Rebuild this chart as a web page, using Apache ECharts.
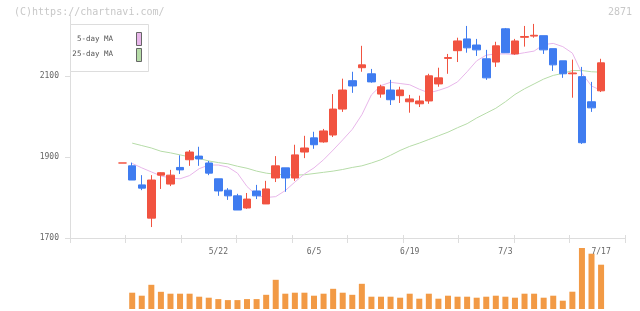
<!DOCTYPE html>
<html><head><meta charset="utf-8">
<script src="https://cdn.jsdelivr.net/npm/echarts@6/dist/echarts.min.js"></script>
<style>html,body{margin:0;padding:0;background:#fff}#c{width:640px;height:311px}</style>
</head><body><div id="c"></div>
<script>
const dates = ['5/8','5/9','5/10','5/11','5/12','5/15','5/16','5/17','5/18','5/19','5/22','5/23','5/24','5/25','5/26','5/29','5/30','5/31','6/1','6/2','6/5','6/6','6/7','6/8','6/9','6/12','6/13','6/14','6/15','6/16','6/19','6/20','6/21','6/22','6/23','6/26','6/27','6/28','6/29','6/30','7/3','7/4','7/5','7/6','7/7','7/10','7/11','7/12','7/13','7/14','7/17'];
const tickLabels = ['5/22','6/5','6/19','7/3','7/17'];
const yTicks = [1700, 1900, 2100];
const openP  = [1885,1878,1831,1749,1855,1833,1874,1893,1902,1885,1846,1818,1804,1774,1816,1784,1848,1873,1848,1912,1947,1937,1954,2018,2088,2120,2105,2055,2065,2051,2036,2031,2038,2080,2143,2162,2191,2176,2142,2134,2216,2154,2195,2198,2199,2167,2137,2105,2098,2036,2063];
const closeP = [1885,1843,1823,1843,1861,1855,1868,1912,1895,1860,1816,1804,1769,1796,1804,1821,1878,1848,1905,1922,1930,1964,2018,2065,2075,2127,2085,2073,2041,2065,2043,2038,2100,2095,2145,2186,2169,2164,2095,2174,2157,2186,2197,2200,2164,2127,2105,2107,1935,2021,2132];
const lowP   = [1885,1843,1818,1727,1821,1828,1858,1878,1878,1855,1804,1794,1769,1772,1796,1784,1838,1814,1841,1897,1920,1935,1949,2011,2058,2110,2083,2046,2028,2033,2009,2023,2031,2073,2105,2134,2157,2149,2090,2122,2157,2152,2172,2194,2154,2112,2095,2046,1932,2011,2060];
const highP  = [1885,1886,1855,1855,1862,1868,1904,1917,1925,1890,1846,1823,1809,1811,1831,1841,1902,1873,1930,1952,1962,1969,2055,2093,2110,2174,2117,2078,2090,2073,2053,2051,2105,2120,2154,2194,2223,2191,2164,2184,2218,2191,2223,2228,2199,2167,2137,2140,2122,2085,2142];
const ma5  = [null,1884,1873,1863,1853,1848,1846,1854,1871,1880,1880,1875,1860,1827,1805,1800,1802,1817,1838,1858,1873,1893,1917,1942,1968,2004,2053,2076,2084,2081,2078,2067,2058,2064,2072,2085,2110,2137,2151,2154,2154,2153,2157,2161,2177,2180,2172,2156,2106,2075,2064];
const ma25 = [null,1934,1928,1922,1914,1910,1905,1900,1896,1890,1886,1883,1877,1872,1865,1860,1857,1856,1855,1856,1859,1862,1865,1869,1874,1878,1885,1893,1904,1916,1926,1934,1943,1952,1961,1972,1982,1996,2008,2020,2036,2054,2068,2080,2092,2101,2106,2113,2113,2110,2109];
const volume = [0,16300,13300,24200,17200,15300,15300,15300,12300,11300,9900,8900,8900,9900,9900,14200,29200,15300,16300,16300,13300,15300,20200,16300,14200,25200,12300,12300,12300,11300,15300,10300,15300,10300,13300,12300,12300,11300,12300,13300,12300,11300,15300,15300,11300,13300,8300,17300,61000,55300,44300];

const RED = '#f15340', BLUE = '#3f7cf0';
const MONO = '"DejaVu Sans Mono", "Liberation Mono", monospace';
const cats = ['_a','_b','_c','_d','_e'].concat(dates, ['_y','_z']);
const candleData = dates.map((d, i) => [d, openP[i], closeP[i], lowP[i], highP[i]]);
const ma5Data = dates.map((d, i) => [d, ma5[i] == null ? '-' : ma5[i]]);
const ma25Data = dates.map((d, i) => [d, ma25[i] == null ? '-' : ma25[i]]);
const volData = dates.map((d, i) => [d, volume[i]]);

const chart = echarts.init(document.getElementById('c'), null, {renderer: 'canvas'});
chart.setOption({
  animation: false,
  grid: [
    {left: 70, right: 15, top: 15, bottom: 73},
    {left: 70, right: 15, top: 240, bottom: 2}
  ],
  xAxis: [
    {type: 'category', gridIndex: 0, data: cats, boundaryGap: true, z: 10,
     axisLine: {show: false}, axisTick: {show: false},
     axisLabel: {interval: (idx, val) => tickLabels.includes(val), margin: 10,
       fontFamily: MONO, fontSize: 8, color: '#666'}},
    {type: 'value', gridIndex: 0, min: 0, max: 10, interval: 1, position: 'bottom',
     axisLine: {show: true, lineStyle: {color: '#ddd', width: 1}},
     axisTick: {show: true, length: 5, lineStyle: {color: '#ddd'}},
     axisLabel: {show: false}, splitLine: {show: false}},
    {type: 'value', gridIndex: 0, min: 0, max: 10, interval: 1, position: 'bottom',
     axisLine: {show: false},
     axisTick: {show: true, inside: true, length: 3, lineStyle: {color: '#ddd'}},
     axisLabel: {show: false}, splitLine: {show: false}},
    {type: 'category', gridIndex: 1, data: cats, boundaryGap: true,
     axisLine: {show: false}, axisTick: {show: false}, axisLabel: {show: false}}
  ],
  yAxis: [
    {type: 'value', gridIndex: 0, min: 1700, max: 2250, interval: 200,
     axisLine: {show: true, lineStyle: {color: '#ddd'}},
     axisTick: {show: true, length: 5, customValues: yTicks, lineStyle: {color: '#ddd'}},
     axisLabel: {customValues: yTicks, margin: 11, fontFamily: MONO, fontSize: 8, color: '#666',
       formatter: v => String(v)},
     splitLine: {show: false}},
    {type: 'value', gridIndex: 1, min: 0, max: 69000, show: false, splitLine: {show: false}}
  ],
  series: [
    {type: 'line', name: '25-day MA', xAxisIndex: 0, yAxisIndex: 0, data: ma25Data,
     showSymbol: false, symbol: 'none', z: 1, lineStyle: {color: '#b6dca8', width: 1}},
    {type: 'line', name: '5-day MA', xAxisIndex: 0, yAxisIndex: 0, data: ma5Data,
     showSymbol: false, symbol: 'none', z: 1, lineStyle: {color: '#e8b6ea', width: 1}},
    {type: 'candlestick', xAxisIndex: 0, yAxisIndex: 0, data: candleData, z: 3,
     encode: {x: 0, y: [1, 2, 3, 4]}, barWidth: 8,
     itemStyle: {color: RED, color0: BLUE, borderColor: RED, borderColor0: BLUE, borderWidth: 1}},
    {type: 'bar', xAxisIndex: 3, yAxisIndex: 1, data: volData, barWidth: 6,
     encode: {x: 0, y: 1}, itemStyle: {color: '#f29a45'}}
  ],
  graphic: [
    {type: 'text', left: 14, top: 7, style: {text: '(C)https://chartnavi.com/', fill: '#c8c8c8', font: '10px ' + MONO}},
    {type: 'text', right: 8, top: 7, style: {text: '2871', fill: '#c8c8c8', font: '10px ' + MONO}},
    {type: 'rect', shape: {x: 70.5, y: 24.5, width: 78, height: 47}, style: {fill: '#fff', stroke: '#ddd', lineWidth: 1}, z: 20},
    {type: 'text', x: 113, y: 39.5, z: 21, style: {text: '5-day MA', fill: '#555', font: '7.5px ' + MONO, align: 'right', verticalAlign: 'middle'}},
    {type: 'text', x: 113, y: 54.5, z: 21, style: {text: '25-day MA', fill: '#555', font: '7.5px ' + MONO, align: 'right', verticalAlign: 'middle'}},
    {type: 'rect', z: 21, shape: {x: 136.5, y: 32.5, width: 5, height: 13}, style: {fill: '#e8b6ea', stroke: '#666', lineWidth: 1}},
    {type: 'rect', z: 21, shape: {x: 136.5, y: 48.5, width: 5, height: 13}, style: {fill: '#b6dca8', stroke: '#666', lineWidth: 1}}
  ]
});
</script>
</body></html>
